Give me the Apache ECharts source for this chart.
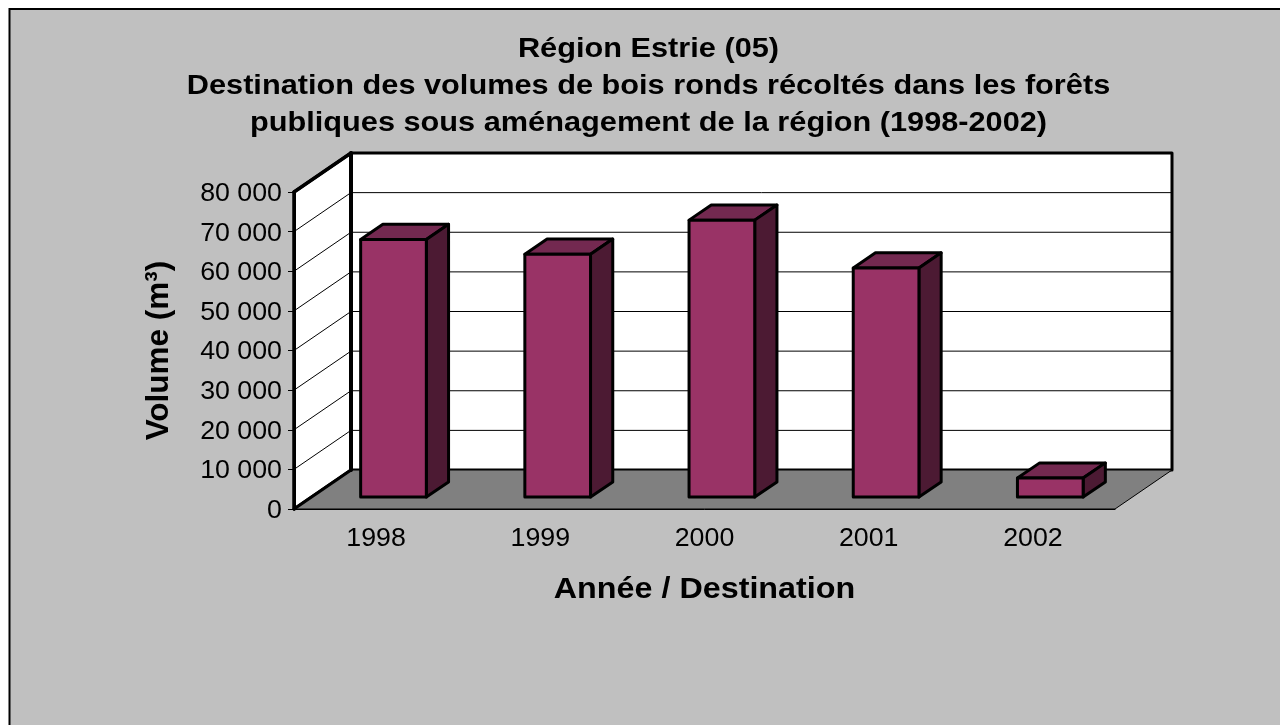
<!DOCTYPE html>
<html>
<head>
<meta charset="utf-8">
<title>Région Estrie (05)</title>
<script src="https://cdn.jsdelivr.net/npm/echarts@6/dist/echarts.min.js"></script>
<style>
  html, body { margin: 0; padding: 0; background: #fff; }
  #chart { width: 1280px; height: 725px; }
</style>
</head>
<body>
<div id="chart"></div>
<script>
const years = ['1998', '1999', '2000', '2001', '2002']
const volumes = [65000, 61300, 69900, 57800, 4800]
const yMax = 80000
const yStep = 10000
const titleLines = [
  'Région Estrie (05)',
  'Destination des volumes de bois ronds récoltés dans les forêts',
  'publiques sous aménagement de la région (1998-2002)'
]
const xName = 'Année / Destination'
const yName = 'Volume (m³)'

// decalage de la perspective, en pixels
const depthX = 57
const depthY = -39
const barShare = 0.4    // largeur de barre / largeur de categorie
const barDepth = 0.39   // profondeur de barre / profondeur du plancher
const barInset = 0.305  // recul de la barre depuis le bord avant

const FONT = '"Liberation Sans", Arial, sans-serif'

const formatTick = v => String(v).replace(/\B(?=(\d{3})+$)/g, ' ')

const poly = (points, fill, stroke, lineWidth) => ({
  type: 'polygon',
  shape: { points },
  style: { fill, stroke, lineWidth, lineJoin: 'round' }
})

const segment = (a, b, lineWidth) => ({
  type: 'polyline',
  shape: { points: [a, b] },
  style: { fill: null, stroke: '#000', lineWidth, lineCap: 'round' }
})

// l'image d'origine est legerement etiree a l'horizontale, d'ou le scaleX
const label = (text, x, y, fontSize, align, bold, scaleX) => ({
  type: 'text',
  x,
  y,
  scaleX,
  style: {
    text,
    fontFamily: FONT,
    fontSize,
    fontWeight: bold ? 'bold' : 'normal',
    fill: '#000',
    align,
    verticalAlign: 'middle'
  }
})

// murs, plancher et quadrillage
const renderWalls = (params, api) => {
  const band = api.size([1, 0])[0]
  const x0 = api.coord([0, 0])[0] - band / 2
  const x1 = api.coord([years.length - 1, 0])[0] + band / 2
  const y0 = api.coord([0, 0])[1]
  const yTop = api.coord([0, yMax])[1]
  const children = [
    poly([[x0 + depthX, yTop + depthY], [x1 + depthX, yTop + depthY], [x1 + depthX, y0 + depthY], [x0 + depthX, y0 + depthY]], '#fff', '#000', 3),
    poly([[x0, yTop], [x0 + depthX, yTop + depthY], [x0 + depthX, y0 + depthY], [x0, y0]], '#fff', '#000', 3),
    poly([[x0, y0], [x0 + depthX, y0 + depthY], [x1 + depthX, y0 + depthY], [x1, y0]], '#808080', '#000', 1)
  ]
  for (let v = yStep; v < yMax; v += yStep) {
    const y = api.coord([0, v])[1]
    children.push(segment([x0, y], [x0 + depthX, y + depthY], 1))
    children.push(segment([x0 + depthX, y + depthY], [x1 + depthX, y + depthY], 1))
  }
  // arete arriere plus epaisse, comme dans l'original
  children.push(segment([x0 + depthX, yTop + depthY], [x0 + depthX, y0 + depthY], 4))
  children.push(segment([x0, yTop], [x0 + depthX, yTop + depthY], 3.5))
  children.push(segment([x0, yTop], [x0, y0], 3))
  children.push(segment([x0, y0], [x0 + depthX, y0 + depthY], 3))
  return { type: 'group', children }
}

const renderBar = (params, api) => {
  const idx = api.value(0)
  const band = api.size([1, 0])[0]
  const w = band * barShare
  const base = api.coord([idx, 0])
  const top = api.coord([idx, api.value(1)])
  const left = base[0] - w / 2 + depthX * barInset
  const right = left + w
  const yb = base[1] + depthY * barInset
  const yt = top[1] + depthY * barInset
  const dx = depthX * barDepth
  const dy = depthY * barDepth
  return {
    type: 'group',
    children: [
      poly([[left, yt], [right, yt], [right + dx, yt + dy], [left + dx, yt + dy]], '#732950', '#000', 3),
      poly([[right, yb], [right + dx, yb + dy], [right + dx, yt + dy], [right, yt]], '#4c1a33', '#000', 3),
      poly([[left, yb], [right, yb], [right, yt], [left, yt]], '#993366', '#000', 3)
    ]
  }
}

// textes des axes, places avec les echelles du graphique
const renderLabels = (params, api) => {
  const children = []
  const band = api.size([1, 0])[0]
  const axisX = api.coord([0, 0])[0] - band / 2
  const axisY = api.coord([0, 0])[1]
  for (let v = 0; v <= yMax; v += yStep) {
    children.push(label(formatTick(v), axisX - 12, api.coord([0, v])[1] + 2, 25, 'right', false, 1.07))
  }
  years.forEach((y, i) => {
    children.push(label(y, api.coord([i, 0])[0], axisY + 30, 25, 'center', false, 1.07))
  })
  const midX = api.coord([2, 0])[0]
  children.push(label(xName, midX, axisY + 81, 29.5, 'center', true, 1.095))
  return { type: 'group', children }
}

const chart = echarts.init(document.getElementById('chart'), null, { renderer: 'canvas' })

chart.setOption({
  animation: false,
  backgroundColor: '#fff',
  textStyle: { fontFamily: FONT },
  graphic: [
    {
      type: 'rect',
      z: -10,
      shape: { x: 9.5, y: 9, width: 1300, height: 800 },
      style: { fill: '#c0c0c0', stroke: '#000', lineWidth: 2 }
    },
    ...titleLines.map((line, i) => ({
      type: 'text',
      x: 648.5,
      y: 49 + i * 37,
      scaleX: 1.097,
      style: {
        text: line,
        fontFamily: FONT,
        fontSize: 28,
        fontWeight: 'bold',
        fill: '#000',
        align: 'center',
        verticalAlign: 'middle'
      }
    }))
  ],
  grid: { left: 294, top: 192, width: 821, height: 317 },
  xAxis: {
    type: 'category',
    data: years,
    axisLine: { lineStyle: { color: '#000', width: 1 } },
    axisTick: { length: 7, lineStyle: { color: '#000', width: 1 } },
    axisLabel: { show: false },
    splitLine: { show: false },
    z: 5
  },
  yAxis: {
    type: 'value',
    min: 0,
    max: yMax,
    interval: yStep,
    name: yName,
    nameLocation: 'middle',
    nameRotate: 90,
    nameGap: 119,
    nameTextStyle: { fontFamily: FONT, fontSize: 31.5, fontWeight: 'bold', color: '#000' },
    axisLine: { show: true, lineStyle: { color: '#000', width: 3 } },
    axisTick: { show: true, length: 6, lineStyle: { color: '#000', width: 1 } },
    axisLabel: { show: false },
    splitLine: { show: false },
    z: 5
  },
  series: [
    {
      type: 'custom',
      name: 'parois',
      clip: false,
      silent: true,
      z: 1,
      data: [[0, 0]],
      renderItem: renderWalls
    },
    {
      type: 'custom',
      name: 'Volume',
      clip: false,
      z: 3,
      encode: { x: 0, y: 1 },
      data: years.map((y, i) => [i, volumes[i]]),
      renderItem: renderBar
    },
    {
      type: 'custom',
      name: 'textes',
      clip: false,
      silent: true,
      z: 6,
      data: [[0, 0]],
      renderItem: renderLabels
    }
  ]
})

window.addEventListener('resize', () => chart.resize())
</script>
</body>
</html>
